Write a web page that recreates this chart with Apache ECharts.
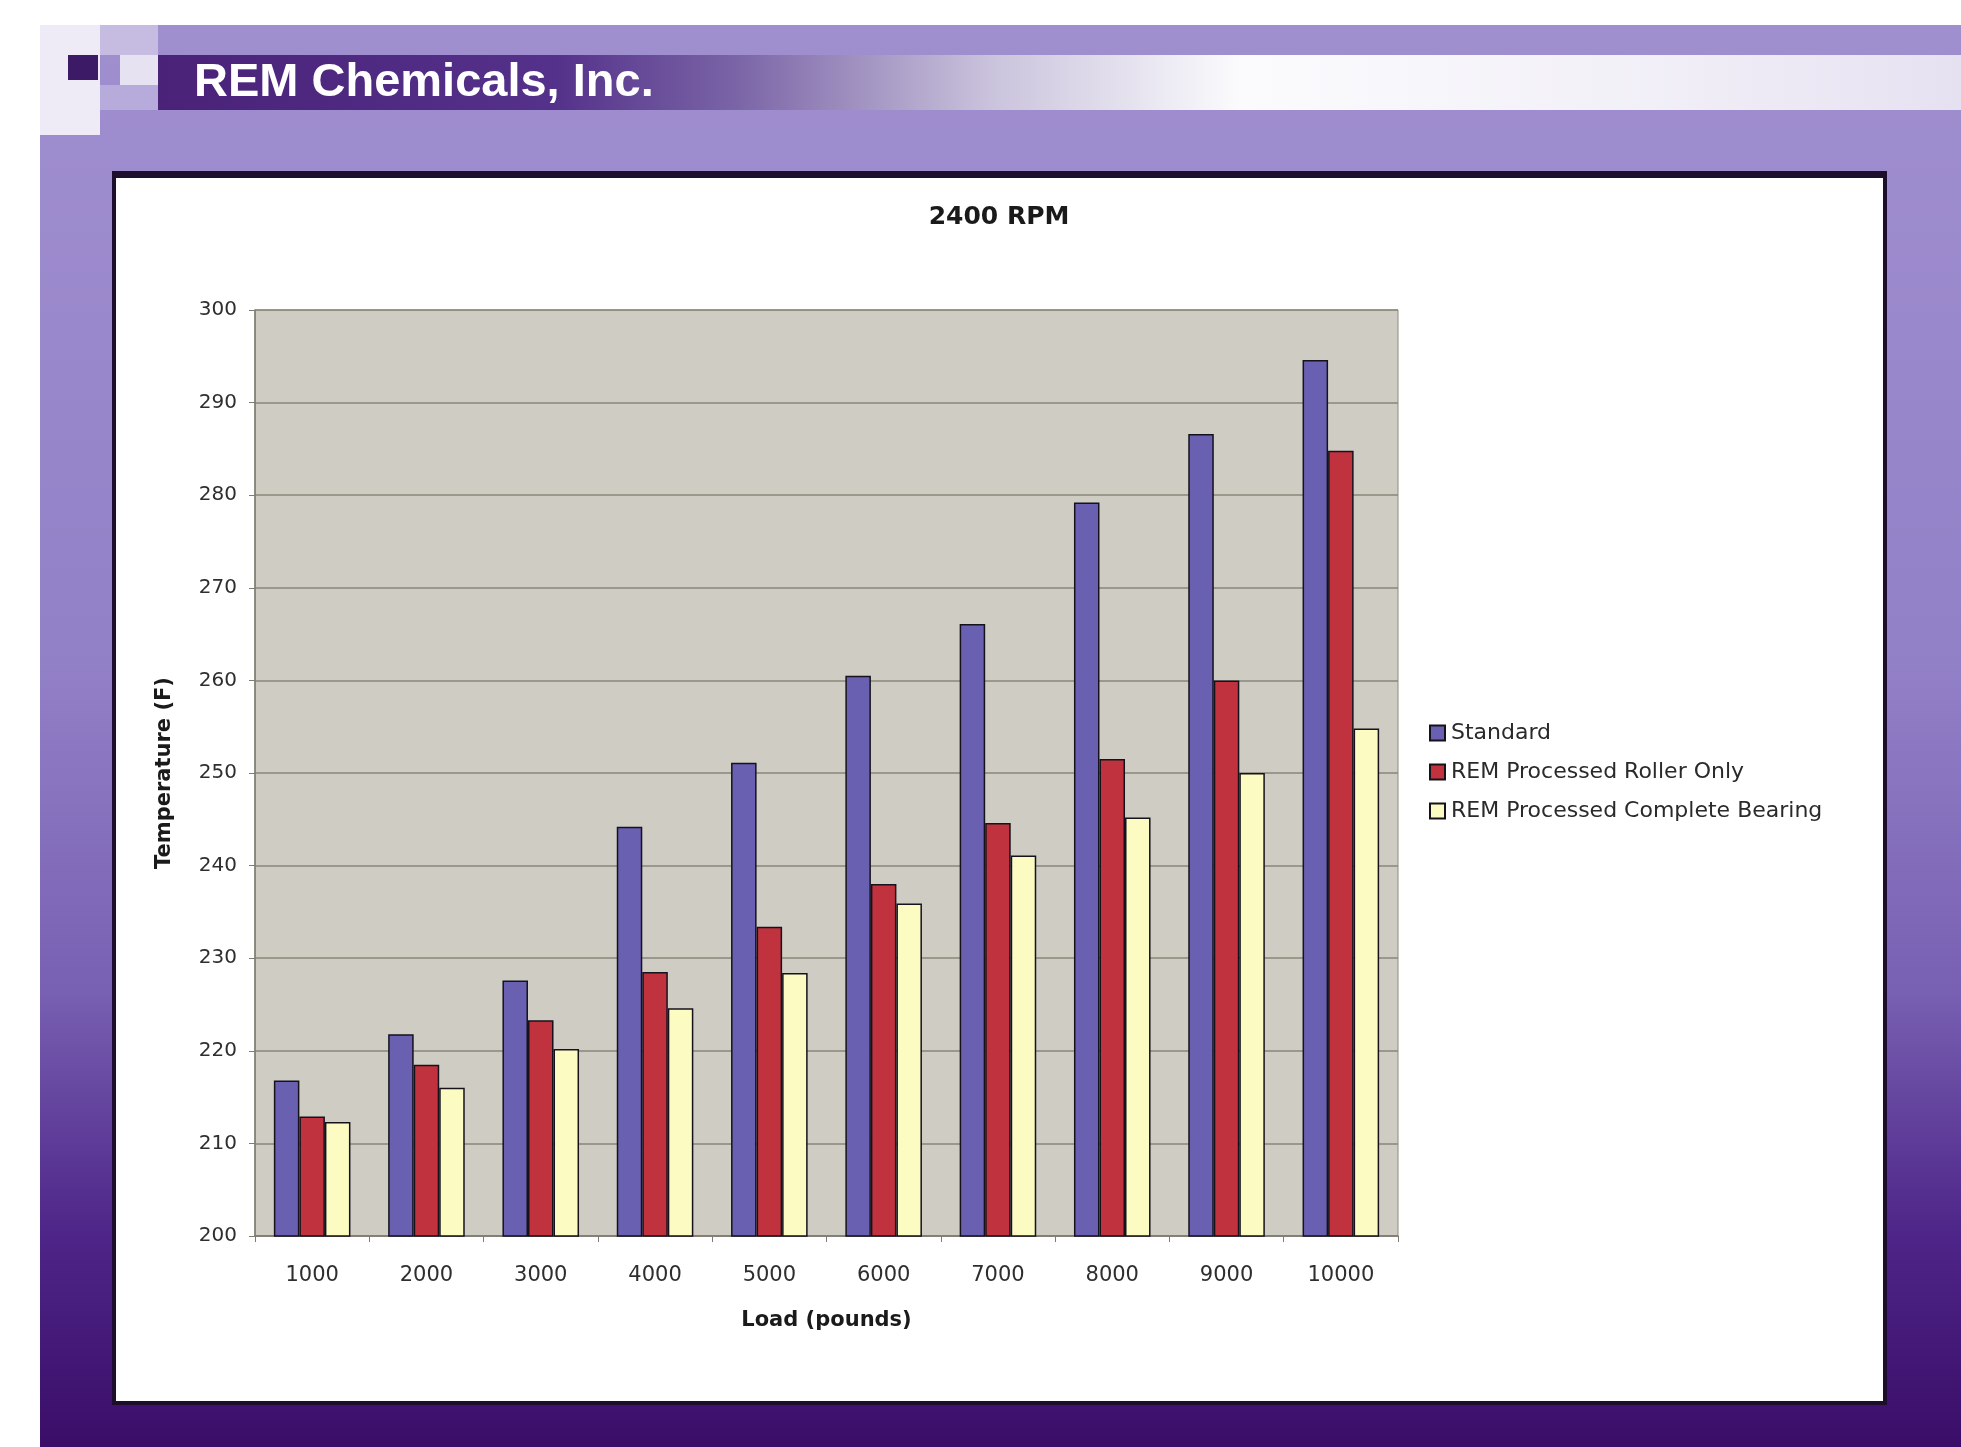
<!DOCTYPE html>
<html>
<head>
<meta charset="utf-8">
<script src="https://cdn.jsdelivr.net/npm/echarts@6/dist/echarts.min.js"></script>
<style>
html,body{margin:0;padding:0;background:#ffffff;}
#chart{width:1961px;height:1447px;}
</style>
</head>
<body>
<div id="chart"></div>
<script>
// ---- data ----
const categories = ['1000','2000','3000','4000','5000','6000','7000','8000','9000','10000'];
const seriesNames = ['Standard','REM Processed Roller Only','REM Processed Complete Bearing'];
const standard = [216.8, 221.8, 227.6, 244.2, 251.1, 260.5, 266.1, 279.2, 286.6, 294.6];
const rollerOnly = [212.9, 218.5, 223.3, 228.5, 233.4, 238.0, 244.6, 251.5, 260.0, 284.8];
const completeBearing = [212.3, 216.0, 220.2, 224.6, 228.4, 235.9, 241.1, 245.2, 250.0, 254.8];
const chartTitle = '2400 RPM';
const headerText = 'REM Chemicals, Inc.';
const xTitle = 'Load (pounds)';
const yTitle = 'Temperature (F)';

const HFONT = '"Liberation Sans", Arial, sans-serif';
const FONT = '"DejaVu Sans", Verdana, sans-serif';
const colors = ['#6a60b2', '#c1323f', '#fcfbc2'];

const chart = echarts.init(document.getElementById('chart'), null, {renderer: 'canvas'});

function barSeries(name, data, color) {
  return {
    name: name,
    type: 'bar',
    data: data,
    barGap: '0%',
    barCategoryGap: '33%',
    itemStyle: {color: color, borderColor: '#15121c', borderWidth: 1.5},
    z: 5
  };
}

const option = {
  animation: false,
  backgroundColor: '#ffffff',
  graphic: [
    // purple slide background
    {type: 'rect', z: -20, silent: true, shape: {x: 40, y: 25, width: 1921, height: 1422},
      style: {fill: new echarts.graphic.LinearGradient(0, 0, 0, 1, [
        {offset: 0, color: '#a08fcf'},
        {offset: 0.45, color: '#9280c7'},
        {offset: 0.68, color: '#7860b2'},
        {offset: 0.85, color: '#4e2588'},
        {offset: 1, color: '#3a0e68'}
      ])}},
    // header bar
    {type: 'rect', z: -19, silent: true, shape: {x: 158, y: 55, width: 1803, height: 55},
      style: {fill: new echarts.graphic.LinearGradient(0, 0, 1, 0, [
        {offset: 0, color: '#4a2278'},
        {offset: 0.22, color: '#54318a'},
        {offset: 0.32, color: '#7a64a6'},
        {offset: 0.46, color: '#c9c2dc'},
        {offset: 0.6, color: '#fbfbfd'},
        {offset: 0.8, color: '#f3f1f8'},
        {offset: 1, color: '#e6e1f1'}
      ])}},
    // decorative squares
    {type: 'rect', z: -18, silent: true, shape: {x: 40, y: 25, width: 60, height: 110}, style: {fill: '#eeebf6'}},
    {type: 'rect', z: -18, silent: true, shape: {x: 100, y: 25, width: 58, height: 30}, style: {fill: '#c6bce2'}},
    {type: 'rect', z: -18, silent: true, shape: {x: 120, y: 55, width: 38, height: 30}, style: {fill: '#e6e2f2'}},
    {type: 'rect', z: -18, silent: true, shape: {x: 100, y: 85, width: 58, height: 25}, style: {fill: '#b7abdb'}},
    {type: 'rect', z: -17, silent: true, shape: {x: 68, y: 55, width: 30, height: 25}, style: {fill: '#3d1a66'}},
    // header text
    {type: 'text', z: -16, silent: true, left: 194, top: 60,
      style: {text: headerText, fill: '#ffffff', font: 'bold 47px ' + HFONT}},
    // white chart box with dark frame
    {type: 'rect', z: -15, silent: true, shape: {x: 112, y: 171, width: 1775, height: 1234}, style: {fill: '#1c0e2c'}},
    {type: 'rect', z: -14, silent: true, shape: {x: 116, y: 178, width: 1767, height: 1223}, style: {fill: '#ffffff'}}
  ],
  title: {
    text: chartTitle,
    left: 994,
    top: 200,
    textAlign: 'center',
    textStyle: {fontFamily: FONT, fontWeight: 'bold', fontSize: 25, color: '#1a1a1a'}
  },
  legend: {
    orient: 'vertical',
    left: 1424,
    top: 717,
    itemGap: 17,
    itemWidth: 15,
    itemHeight: 15,
    icon: 'rect',
    data: seriesNames,
    textStyle: {fontFamily: FONT, fontSize: 22, color: '#2a2a2a', padding: [0, 0, 0, 1]}
  },
  grid: {left: 255, right: 563, top: 310, bottom: 211, containLabel: false,
    show: true, backgroundColor: '#cfccc4', borderColor: '#8c8a80', borderWidth: 1},
  xAxis: {
    type: 'category',
    data: categories,
    name: xTitle,
    nameLocation: 'middle',
    nameGap: 74,
    nameTextStyle: {fontFamily: FONT, fontWeight: 'bold', fontSize: 21, color: '#1a1a1a'},
    axisLine: {show: true, lineStyle: {color: '#7d7b72', width: 1.5}},
    axisTick: {show: true, length: 6, lineStyle: {color: '#7d7b72'}},
    axisLabel: {fontFamily: FONT, fontSize: 21, color: '#2e2e2e', margin: 29},
    splitLine: {show: false}
  },
  yAxis: {
    type: 'value',
    min: 200,
    max: 300,
    interval: 10,
    name: yTitle,
    nameLocation: 'middle',
    nameGap: 80,
    nameRotate: 90,
    nameTextStyle: {fontFamily: FONT, fontWeight: 'bold', fontSize: 21, color: '#1a1a1a'},
    axisLine: {show: true, lineStyle: {color: '#7d7b72', width: 1.5}},
    axisTick: {show: true, length: 6, lineStyle: {color: '#7d7b72'}},
    axisLabel: {fontFamily: FONT, fontSize: 20, color: '#2e2e2e', margin: 18},
    splitLine: {show: true, lineStyle: {color: '#8a8778', width: 1.6}}
  },
  series: [
    barSeries(seriesNames[0], standard, colors[0]),
    barSeries(seriesNames[1], rollerOnly, colors[1]),
    barSeries(seriesNames[2], completeBearing, colors[2])
  ]
};
chart.setOption(option);
</script>
</body>
</html>
